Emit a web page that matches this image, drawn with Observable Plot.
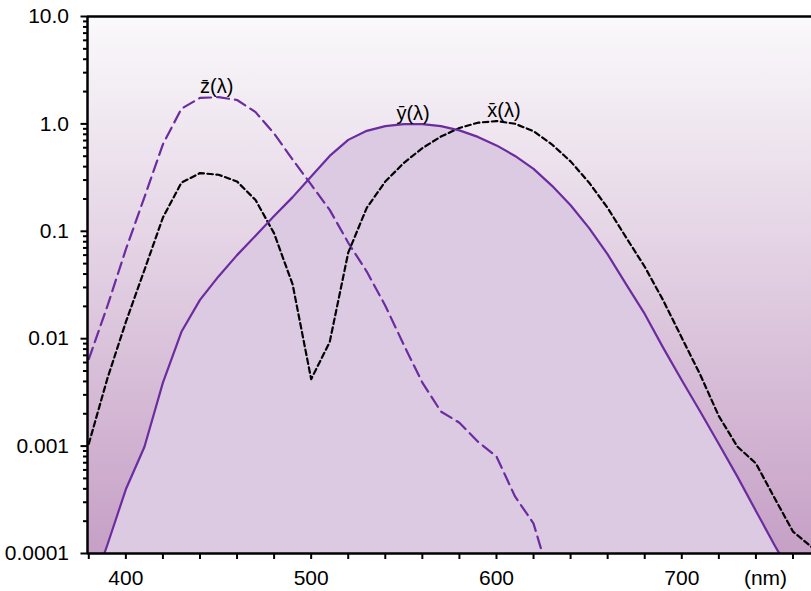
<!DOCTYPE html>
<html>
<head>
<meta charset="utf-8">
<script src="https://cdn.jsdelivr.net/npm/d3@7"></script>
<script src="https://cdn.jsdelivr.net/npm/@observablehq/plot@0.6"></script>
<style>
  html, body { margin: 0; padding: 0; background: #fff; }
  #chart svg { display: block; }
</style>
</head>
<body>
<div id="chart"></div>
<script>
// CIE 1931 colour matching functions, 10 nm steps
const wavelengths = [380,390,400,410,420,430,440,450,460,470,480,490,500,510,520,530,540,550,560,570,580,590,600,610,620,630,640,650,660,670,680,690,700,710,720,730,740,750,760,770,780];
const xbar = [0.00105,0.004243,0.01431,0.04351,0.13438,0.2839,0.34828,0.3362,0.2908,0.19536,0.09564,0.03201,0.0042,0.0093,0.06327,0.1655,0.2904,0.43345,0.5945,0.7621,0.9163,1.0263,1.0622,1.0026,0.85445,0.6424,0.4479,0.2835,0.1649,0.0874,0.04677,0.0227,0.0102,0.0046,0.0019,0.00099,0.00069,0.00033,0.00016,0.000115,0.00008];
const ybar = [0.000039,0.00012,0.000396,0.00098,0.0039,0.0116,0.023,0.038,0.06,0.09098,0.13902,0.20802,0.323,0.503,0.71,0.862,0.954,0.99495,0.995,0.952,0.87,0.757,0.631,0.503,0.381,0.265,0.175,0.107,0.061,0.032,0.017,0.00821,0.004102,0.002091,0.001047,0.00052,0.000249,0.00012,0.00006,0.00003,0.000015];
const zbar = [0.00645,0.02005,0.06785,0.2074,0.6456,1.3856,1.74706,1.77211,1.6692,1.28764,0.81295,0.46518,0.272,0.1582,0.07825,0.04216,0.0203,0.00875,0.0039,0.0021,0.00165,0.0011,0.0008,0.00034,0.00019,0.00005,0.00002,0,0,0,0,0,0,0,0,0,0,0,0,0,0];

const yMajorTicks = [0.0001, 0.001, 0.01, 0.1, 1, 10];
const yMajorLabels = ["0.0001", "0.001", "0.01", "0.1", "1.0", "10.0"];
const xTicks = [380,400,420,440,460,480,500,520,540,560,580,600,620,640,660,680,700,720,740,760];
const xTickLabels = ["", "400", "", "", "", "", "500", "", "", "", "", "600", "", "", "", "", "700", "", "", ""];
const unitLabel = "(nm)";

const curveLabels = ["z\u0304(\u03bb)", "y\u0304(\u03bb)", "x\u0304(\u03bb)"];
const curveLabelX = [449, 555, 604];
const curveLabelY = [1.772, 1.0, 1.0622];

const xDomain = [379.3, 770];
const yDomain = [0.0001, 10];

const data = wavelengths.map((w, i) => ({w, x: xbar[i], y: ybar[i], z: zbar[i]}));
const yMinorTicks = [];
for (let e = -4; e < 1; e++) for (let k = 2; k <= 9; k++) yMinorTicks.push(k * Math.pow(10, e));
const labelData = curveLabels.map((t, i) => ({t, w: curveLabelX[i], v: curveLabelY[i]}));

const purple = "#6b2c9f";
const FONT = "'Liberation Sans', Arial, Helvetica, sans-serif";

const plot = Plot.plot({
  width: 811,
  height: 591,
  marginLeft: 87,
  marginRight: 0,
  marginTop: 16,
  marginBottom: 38,
  style: {fontFamily: FONT, fontSize: "21px", background: "#fff", color: "#000", overflow: "visible"},
  x: {domain: xDomain, axis: null},
  y: {type: "log", domain: yDomain, axis: null},
  marks: [
    Plot.frame({fill: "url(#bggrad)", stroke: null}),
    Plot.areaY(data, {x: "w", y1: 0.0001, y2: "y", fill: "#dccae3", clip: true}),
    Plot.line(data.filter(d => d.z > 0), {x: "w", y: "z", stroke: purple, strokeWidth: 2.2, strokeDasharray: "12,6", clip: true}),
    Plot.line(data, {x: "w", y: "x", stroke: "#000", strokeWidth: 2.2, strokeDasharray: "5.5,3.5", clip: true}),
    Plot.line(data, {x: "w", y: "y", stroke: purple, strokeWidth: 2.2, clip: true}),
    Plot.text(labelData, {x: "w", y: "v", text: "t", lineAnchor: "bottom", dy: -4, fontSize: 20, fill: "#000"}),
    Plot.axisY(yMinorTicks, {anchor: "left", tickSize: 4, strokeWidth: 2, tickFormat: () => "", label: null}),
    Plot.axisY(yMajorTicks, {anchor: "left", tickSize: 6.5, strokeWidth: 2, tickPadding: 12, tickFormat: (d) => yMajorLabels[yMajorTicks.indexOf(d)], label: null}),
    Plot.axisX(xTicks, {anchor: "bottom", tickSize: 6, strokeWidth: 2, tickPadding: 11, tickFormat: d => xTickLabels[xTicks.indexOf(d)], label: null}),
    Plot.ruleX([xDomain[0]], {stroke: "#000", strokeWidth: 2.5}),
    Plot.ruleY([yDomain[0]], {stroke: "#000", strokeWidth: 2.5}),
    Plot.ruleY([yDomain[1]], {stroke: "#000", strokeWidth: 2.5}),
    Plot.text([unitLabel], {x: xDomain[1], y: yDomain[0], text: d => d, dx: -46, dy: 17, lineAnchor: "top", fill: "#000"})
  ]
});

// vertical background gradient
const svg = d3.select(plot);
const defs = svg.insert("defs", ":first-child");
const grad = defs.append("linearGradient").attr("id", "bggrad").attr("x1", 0).attr("y1", 0).attr("x2", 0).attr("y2", 1);
grad.append("stop").attr("offset", "0%").attr("stop-color", "#faf9fb");
grad.append("stop").attr("offset", "100%").attr("stop-color", "#c6a0c6");

document.getElementById("chart").appendChild(plot);
</script>
</body>
</html>
